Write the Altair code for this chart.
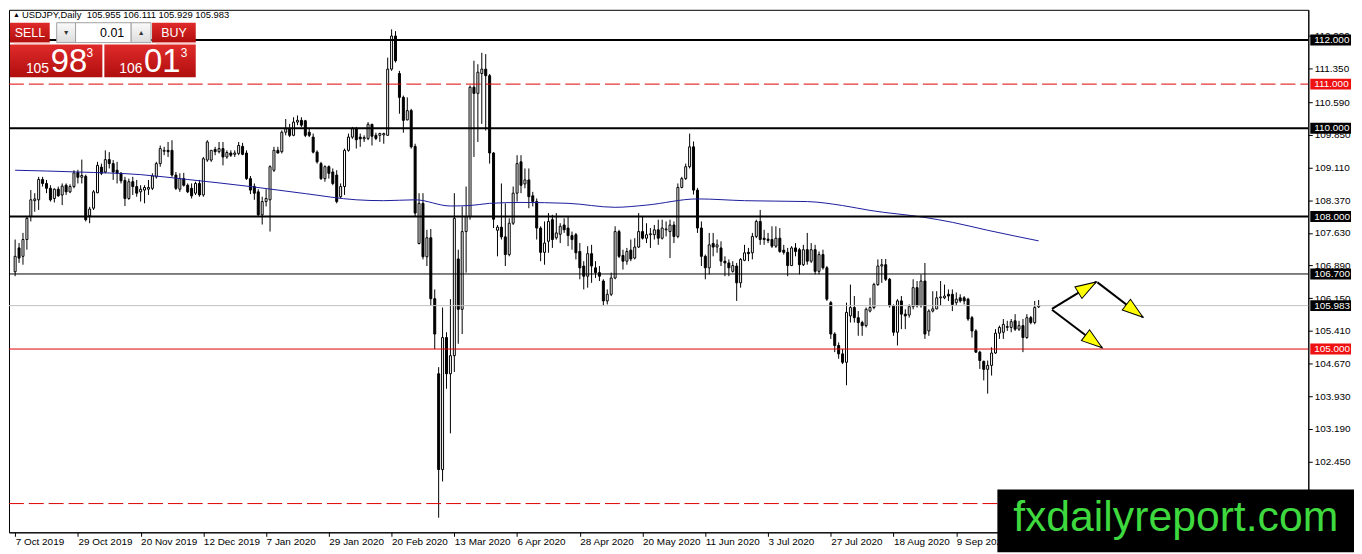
import json
import math
import altair as alt
import pandas as pd

FONT = "Liberation Sans"
W, H = 1308, 526
X_DOMAIN = [-0.3, 328.5]
Y_DOMAIN = [100.849, 112.683]

# ---------------- data ----------------
OPEN = [
    106.75, 107.29, 107.10, 107.48, 108.00, 108.36, 108.38, 108.84, 108.75, 108.64,
    108.41, 108.62, 108.49, 108.71, 108.56, 108.68, 109.00, 108.89, 108.91, 108.02,
    108.19, 108.54, 109.12, 109.01, 109.29, 109.20, 109.05, 108.98, 108.82, 108.41,
    108.79, 108.68, 108.56, 108.60, 108.62, 108.64, 108.90, 109.20, 109.48, 109.50,
    109.50, 108.94, 108.62, 108.86, 108.71, 108.64, 108.53, 108.75, 108.49, 109.28,
    109.28, 109.52, 109.47, 109.54, 109.35, 109.44, 109.41, 109.43, 109.59, 109.44,
    108.86, 108.68, 108.56, 108.04, 108.34, 108.38, 109.05, 109.50, 109.47, 109.91,
    109.99, 109.84, 110.14, 110.18, 110.17, 109.91, 109.80, 109.46, 109.20, 108.86,
    109.13, 109.01, 108.94, 108.45, 108.68, 109.50, 109.80, 109.99, 109.80, 109.76,
    109.77, 110.09, 109.84, 109.84, 109.85, 109.84, 111.34, 112.09, 111.24, 110.70,
    110.19, 110.40, 109.59, 107.39, 108.30, 107.09, 107.52, 106.14, 104.44, 102.27,
    105.26, 104.44, 104.85, 107.04, 105.90, 107.66, 108.00, 110.93, 110.79, 111.24,
    111.34, 111.19, 109.44, 107.69, 107.76, 107.54, 107.14, 107.85, 108.53, 109.24,
    108.74, 108.83, 108.47, 108.34, 107.74, 107.19, 107.44, 107.93, 107.52, 107.60,
    107.81, 107.74, 107.57, 107.59, 107.21, 106.88, 106.65, 107.16, 106.84, 106.73,
    106.54, 106.09, 106.24, 106.61, 107.66, 107.12, 106.99, 107.24, 107.06, 107.31,
    107.66, 107.51, 107.59, 107.59, 107.70, 107.51, 107.70, 107.66, 107.81, 107.55,
    108.66, 108.86, 109.13, 109.58, 108.60, 107.74, 107.10, 106.84, 107.39, 107.31,
    107.29, 106.99, 106.95, 106.76, 106.88, 106.50, 107.01, 107.19, 107.18, 107.55,
    107.89, 107.51, 107.49, 107.48, 107.33, 107.51, 107.24, 107.19, 106.89, 107.29,
    107.25, 106.91, 107.25, 106.99, 107.25, 106.76, 107.14, 106.84, 106.05, 105.34,
    105.08, 104.89, 104.70, 105.75, 105.94, 105.71, 105.60, 105.53, 105.86, 105.94,
    106.46, 106.88, 106.91, 106.58, 105.98, 105.38, 106.09, 105.79, 105.77, 105.96,
    106.39, 105.98, 106.54, 105.41, 105.86, 105.91, 106.16, 106.16, 106.24, 106.24,
    106.05, 106.16, 106.16, 106.13, 105.71, 105.41, 104.93, 104.72, 104.54, 104.63,
    104.91, 105.36, 105.38, 105.49, 105.49, 105.64, 105.45, 105.53, 105.26, 105.71,
    105.60, 105.955,
]
HIGH = [
    107.48, 107.40, 107.63, 108.00, 108.60, 108.53, 108.90, 108.90, 108.83, 108.71,
    108.64, 108.68, 108.75, 108.75, 108.73, 109.05, 109.06, 109.29, 108.95, 108.22,
    108.60, 109.24, 109.20, 109.50, 109.46, 109.28, 109.24, 109.01, 108.90, 108.86,
    108.90, 108.83, 108.71, 108.71, 108.83, 108.98, 109.24, 109.61, 109.58, 109.69,
    109.73, 109.01, 108.98, 108.99, 108.75, 108.75, 108.79, 108.83, 109.35, 109.73,
    109.50, 109.58, 109.69, 109.69, 109.50, 109.50, 109.50, 109.69, 109.67, 109.50,
    108.92, 108.75, 108.62, 108.45, 108.62, 109.16, 109.58, 109.58, 109.95, 110.21,
    110.10, 110.25, 110.29, 110.25, 110.19, 109.99, 109.88, 109.50, 109.24, 109.16,
    109.16, 109.09, 109.05, 108.75, 109.54, 109.88, 110.03, 110.03, 109.88, 109.84,
    110.14, 110.10, 109.90, 109.90, 109.90, 111.60, 112.24, 112.20, 111.30, 110.74,
    110.70, 110.44, 109.65, 108.53, 108.53, 107.70, 107.72, 106.35, 104.59, 105.94,
    105.38, 106.13, 108.53, 107.25, 108.23, 108.68, 110.97, 111.53, 111.45, 111.71,
    111.68, 111.23, 109.46, 107.81, 108.75, 108.30, 107.96, 108.68, 109.39, 109.39,
    109.09, 109.09, 108.56, 108.41, 107.78, 107.89, 108.08, 108.04, 108.08, 107.85,
    107.96, 108.00, 107.66, 107.63, 107.40, 106.99, 107.33, 107.36, 106.99, 106.88,
    106.58, 106.35, 106.73, 107.78, 107.70, 107.25, 107.29, 107.48, 107.51, 108.08,
    107.99, 107.85, 107.74, 107.81, 107.93, 107.93, 107.89, 107.93, 107.89, 108.75,
    108.90, 109.20, 109.88, 109.70, 108.65, 107.89, 107.14, 107.63, 107.63, 107.48,
    107.44, 107.10, 107.03, 106.99, 106.95, 107.06, 107.36, 107.29, 107.63, 107.93,
    108.15, 107.70, 107.63, 107.78, 107.78, 107.74, 107.36, 107.29, 107.33, 107.40,
    107.29, 107.36, 107.63, 107.40, 107.36, 107.21, 107.25, 106.88, 106.09, 105.38,
    105.15, 105.00, 106.05, 106.46, 106.20, 105.86, 105.64, 105.94, 106.16, 106.50,
    107.03, 107.04, 107.04, 106.61, 106.01, 106.13, 106.20, 105.90, 106.01, 106.58,
    106.54, 106.69, 106.95, 105.90, 106.31, 106.31, 106.54, 106.46, 106.35, 106.35,
    106.28, 106.24, 106.20, 106.16, 105.75, 105.45, 104.96, 104.74, 104.74, 105.04,
    105.45, 105.53, 105.68, 105.64, 105.68, 105.79, 105.64, 105.68, 105.79, 105.75,
    106.09, 106.111,
]
LOW = [
    106.65, 106.95, 106.91, 107.25, 107.89, 108.11, 108.15, 108.68, 108.53, 108.34,
    108.32, 108.45, 108.26, 108.49, 108.53, 108.64, 108.75, 108.75, 107.89, 107.85,
    108.15, 108.53, 108.94, 108.98, 109.09, 108.83, 108.75, 108.75, 108.24, 108.38,
    108.49, 108.45, 108.34, 108.30, 108.49, 108.60, 108.86, 109.13, 109.39, 109.35,
    108.90, 108.60, 108.56, 108.68, 108.53, 108.41, 108.49, 108.45, 108.45, 109.24,
    109.24, 109.39, 109.43, 109.16, 109.31, 109.35, 109.35, 109.39, 109.39, 108.83,
    108.51, 108.38, 108.00, 107.82, 108.23, 107.66, 109.01, 109.43, 109.43, 109.84,
    109.80, 109.82, 110.07, 110.03, 109.80, 109.80, 109.43, 109.20, 108.83, 108.79,
    108.86, 108.71, 108.30, 108.41, 108.49, 109.47, 109.76, 109.54, 109.58, 109.69,
    109.73, 109.61, 109.73, 109.69, 109.65, 109.84, 111.30, 111.49, 110.33, 109.90,
    110.18, 109.54, 108.00, 107.37, 107.03, 106.88, 105.98, 105.00, 101.18, 102.00,
    104.10, 103.09, 104.48, 105.12, 105.34, 106.73, 107.93, 109.35, 109.69, 110.10,
    109.95, 109.20, 107.74, 107.10, 107.48, 106.88, 107.10, 107.81, 108.34, 108.53,
    108.64, 108.19, 108.23, 107.48, 106.99, 106.91, 107.18, 107.29, 107.48, 107.40,
    107.63, 107.33, 107.25, 107.03, 106.58, 106.35, 106.39, 106.50, 106.61, 106.54,
    105.98, 106.01, 106.20, 106.58, 107.06, 106.80, 106.91, 106.99, 107.03, 107.29,
    107.48, 107.40, 107.29, 107.48, 107.36, 107.48, 107.55, 107.06, 107.40, 107.51,
    108.64, 108.83, 109.09, 108.50, 107.63, 106.88, 106.58, 106.69, 107.10, 107.18,
    106.88, 106.65, 106.65, 106.73, 106.09, 106.39, 106.99, 106.99, 107.03, 107.51,
    107.36, 107.36, 107.40, 107.29, 107.29, 107.18, 107.14, 106.65, 106.88, 107.10,
    106.69, 106.88, 106.91, 106.95, 106.69, 106.69, 106.80, 106.09, 105.23, 104.93,
    104.78, 104.66, 104.18, 105.60, 105.60, 105.30, 105.30, 105.49, 105.83, 105.90,
    106.43, 106.50, 106.54, 105.94, 105.30, 105.08, 105.45, 105.45, 105.71, 105.90,
    105.94, 105.94, 105.23, 105.30, 105.83, 105.90, 105.98, 106.13, 106.09, 105.86,
    105.98, 106.05, 106.01, 105.64, 105.26, 104.91, 104.55, 104.29, 103.99, 104.40,
    104.89, 105.23, 105.23, 105.41, 105.38, 105.41, 105.41, 104.93, 105.23, 105.56,
    105.56, 105.929,
]
CLOSE = [
    107.10, 107.06, 107.48, 107.96, 108.38, 108.40, 108.84, 108.75, 108.64, 108.38,
    108.62, 108.47, 108.69, 108.56, 108.68, 108.99, 108.89, 108.93, 107.93, 108.17,
    108.56, 109.16, 108.98, 109.29, 109.20, 109.01, 108.98, 108.81, 108.41, 108.79,
    108.68, 108.53, 108.62, 108.66, 108.66, 108.92, 109.20, 109.54, 109.50, 109.47,
    108.94, 108.64, 108.86, 108.71, 108.56, 108.47, 108.75, 108.49, 109.31, 109.69,
    109.50, 109.47, 109.54, 109.35, 109.45, 109.39, 109.44, 109.61, 109.41, 108.86,
    108.60, 108.53, 108.04, 108.34, 108.41, 109.13, 109.50, 109.44, 109.91, 109.99,
    109.84, 110.14, 110.18, 110.07, 109.84, 109.84, 109.46, 109.24, 108.86, 109.13,
    108.98, 108.75, 108.34, 108.68, 109.50, 109.80, 109.99, 109.74, 109.76, 109.79,
    110.09, 109.82, 109.77, 109.88, 109.88, 111.34, 112.09, 111.53, 110.70, 110.18,
    110.40, 109.58, 108.08, 108.30, 107.09, 107.52, 106.14, 105.34, 102.27, 105.26,
    104.44, 104.85, 107.96, 105.90, 107.66, 108.00, 110.93, 110.79, 111.27, 111.34,
    111.19, 109.44, 107.94, 107.76, 107.54, 107.14, 107.85, 108.53, 109.20, 108.71,
    108.83, 108.45, 108.34, 107.74, 107.19, 107.40, 107.89, 107.48, 107.63, 107.78,
    107.70, 107.57, 107.48, 107.18, 106.84, 106.65, 107.16, 106.88, 106.73, 106.65,
    106.09, 106.24, 106.61, 107.66, 107.10, 106.99, 107.21, 107.04, 107.31, 107.66,
    107.51, 107.59, 107.61, 107.70, 107.51, 107.74, 107.72, 107.81, 107.55, 108.66,
    108.86, 109.13, 109.58, 108.60, 107.74, 107.10, 106.84, 107.36, 107.31, 107.36,
    106.99, 106.95, 106.84, 106.89, 106.50, 107.03, 107.18, 107.16, 107.55, 107.89,
    107.48, 107.48, 107.46, 107.33, 107.51, 107.21, 107.19, 106.89, 107.29, 107.21,
    106.91, 107.25, 106.99, 107.25, 106.76, 107.14, 106.84, 106.13, 105.34, 105.08,
    104.89, 104.70, 105.83, 105.94, 105.71, 105.60, 105.53, 105.90, 105.94, 106.46,
    106.88, 106.91, 106.58, 105.98, 105.38, 106.09, 105.79, 105.75, 105.96, 106.39,
    105.98, 106.54, 105.34, 105.86, 105.91, 106.16, 106.18, 106.20, 106.20, 106.01,
    106.13, 106.09, 106.09, 105.68, 105.41, 104.93, 104.74, 104.54, 104.63, 104.91,
    105.36, 105.49, 105.56, 105.51, 105.62, 105.45, 105.53, 105.26, 105.71, 105.60,
    105.94, 105.983,
]

DATE_LABELS = [
    "7 Oct 2019", "29 Oct 2019", "20 Nov 2019", "12 Dec 2019", "7 Jan 2020",
    "29 Jan 2020", "20 Feb 2020", "13 Mar 2020", "6 Apr 2020", "28 Apr 2020",
    "20 May 2020", "11 Jun 2020", "3 Jul 2020", "27 Jul 2020", "18 Aug 2020",
    "9 Sep 2020",
]
DATE_STEP = 16

MA_IDX = [0, 16, 32, 44, 60, 74, 87, 94, 102, 111, 116, 121, 129, 141, 153,
          161, 174, 186, 202, 211, 218, 232, 239, 248, 261]
MA_VAL = [109.05, 109.01, 108.95, 108.84, 108.68, 108.52, 108.38, 108.36, 108.38,
          108.24, 108.25, 108.30, 108.32, 108.30, 108.21, 108.26, 108.40, 108.36,
          108.34, 108.25, 108.14, 107.98, 107.87, 107.69, 107.45]

Y_TICKS = [112.090, 111.350, 110.590, 109.850, 109.110, 108.370, 107.630, 106.890,
           106.150, 105.410, 104.670, 103.930, 103.190, 102.450]

THICK_LEVELS = [112.0, 110.0, 108.0]
THIN_LEVELS = [106.7]
PRICE_LINE = [105.983]
RED_LEVELS = [105.0]
RED_DASH_LEVELS = [111.0, 101.5]

BOX_PRICES = [112.0, 111.0, 110.0, 108.0, 106.7, 105.983, 105.0]
BOX_COLORS = ["black", "#ee1111", "black", "black", "black", "black", "#ee1111"]

ARROW_X0 = [264.4, 276.0, 264.4]
ARROW_Y0 = [105.91, 106.51, 105.89]
ARROW_X1 = [275.7, 287.6, 277.2]
ARROW_Y1 = [106.52, 105.72, 105.03]

HEADER = "USDJPY,Daily\u00a0 105.955 106.111 105.929 105.983"

# ---------------- tables ----------------
rows = []
for i in range(len(OPEN)):
    o, h, l, c = OPEN[i], HIGH[i], LOW[i], CLOSE[i]
    rows.append(dict(i=i, h=max(h, o, c), l=min(l, o, c), lo=min(o, c),
                     hi=max(o, c), fill="white" if c >= o else "black"))
candles = pd.DataFrame(rows)
ma_df = pd.DataFrame({"i": MA_IDX, "v": MA_VAL})

PX_X = W / (X_DOMAIN[1] - X_DOMAIN[0])
PX_Y = H / (Y_DOMAIN[1] - Y_DOMAIN[0])
arrows = pd.DataFrame({"x0": ARROW_X0, "y0": ARROW_Y0, "x1": ARROW_X1, "y1": ARROW_Y1})
arrows["ang"] = [
    math.degrees(math.atan2((x1 - x0) * PX_X, (y1 - y0) * PX_Y))
    for x0, y0, x1, y1 in zip(ARROW_X0, ARROW_Y0, ARROW_X1, ARROW_Y1)
]

boxes = pd.DataFrame({"p": BOX_PRICES, "bg": BOX_COLORS})
boxes["lo"] = boxes["p"] - 0.124
boxes["hi"] = boxes["p"] + 0.124
boxes["label"] = [f"{p:.3f}" for p in BOX_PRICES]

xscale = alt.Scale(domain=X_DOMAIN, nice=False, zero=False)
yscale = alt.Scale(domain=Y_DOMAIN, nice=False, zero=False)

label_expr = json.dumps(DATE_LABELS) + f"[round(datum.value / {DATE_STEP})]"
x_axis = alt.Axis(values=[DATE_STEP * k for k in range(len(DATE_LABELS))],
                  labelExpr=label_expr, labelAlign="left", labelBaseline="top",
                  tickSize=4, labelPadding=0, title=None, grid=False,
                  labelOverlap=False, labelFlush=False, zindex=0)
y_axis = alt.Axis(orient="right", values=Y_TICKS, format=".3f", tickSize=4,
                  labelPadding=2, title=None, grid=False, labelOverlap=False,
                  zindex=0)


def X(field):
    return alt.X(field, scale=xscale, axis=x_axis)


def Y(field):
    return alt.Y(field, scale=yscale, axis=y_axis)


layers = []

# candles
layers.append(alt.Chart(candles).mark_rule(color="black", strokeWidth=1).encode(
    x=X("i:Q"), y=Y("l:Q"), y2="h:Q"))
layers.append(alt.Chart(candles).mark_bar(size=2, stroke="black", strokeWidth=1).encode(
    x=X("i:Q"), y=Y("lo:Q"), y2="hi:Q", fill=alt.Fill("fill:N", scale=None)))

# moving average
layers.append(alt.Chart(ma_df).mark_line(color="#1c1c9c", strokeWidth=1,
                                         interpolate="monotone").encode(
    x=X("i:Q"), y=Y("v:Q")))


def level_layer(values, **kw):
    df = pd.DataFrame({"p": values})
    return alt.Chart(df).mark_rule(**kw).encode(
        y=Y("p:Q"), x=alt.value(0), x2=alt.value(W))


layers.append(level_layer(PRICE_LINE, color="#c0c0c0", strokeWidth=1))
layers.append(level_layer(THIN_LEVELS, color="black", strokeWidth=1))
layers.append(level_layer(RED_LEVELS, color="#dd0000", strokeWidth=1))
layers.append(level_layer(RED_DASH_LEVELS, color="#dd0000", strokeWidth=1,
                          strokeDash=[15, 5]))
layers.append(level_layer(THICK_LEVELS, color="black", strokeWidth=2))

# price boxes on the right axis
layers.append(alt.Chart(boxes).mark_rect().encode(
    y=Y("lo:Q"), y2="hi:Q", x=alt.value(W + 2), x2=alt.value(W + 43),
    fill=alt.Fill("bg:N", scale=None)))
layers.append(alt.Chart(boxes).mark_text(align="left", baseline="middle", font=FONT,
                                         fontSize=10, color="white").encode(
    y=Y("p:Q"), x=alt.value(W + 6), text="label:N"))

# arrows
layers.append(alt.Chart(arrows).mark_rule(color="black", strokeWidth=2).encode(
    x=X("x0:Q"), x2="x1:Q", y=Y("y0:Q"), y2="y1:Q"))
layers.append(alt.Chart(arrows).mark_point(
    shape="M0,0L0.65,2L-0.65,2Z", filled=True, fill="#ffff00", stroke="black",
    strokeWidth=1, size=441, opacity=1).encode(
    x=X("x1:Q"), y=Y("y1:Q"), angle=alt.Angle("ang:Q", scale=None)))

ONE = alt.Data(values=[{}])


def rect(x0, x1, y0, y1, **kw):
    return alt.Chart(ONE).mark_rect(**kw).encode(
        x=alt.value(x0), x2=alt.value(x1), y=alt.value(y0), y2=alt.value(y1))


def text(t, x, y, size, color="black", **kw):
    return alt.Chart(ONE).mark_text(text=t, font=FONT, fontSize=size, color=color,
                                    **kw).encode(x=alt.value(x), y=alt.value(y))


RED = alt.Gradient(gradient="linear", x1=0, x2=0, y1=0, y2=1,
                   stops=[alt.GradientStop(offset=0, color="#e02a2a"),
                          alt.GradientStop(offset=1, color="#b00e0e")])
GREY = alt.Gradient(gradient="linear", x1=0, x2=0, y1=0, y2=1,
                    stops=[alt.GradientStop(offset=0, color="#fafafa"),
                           alt.GradientStop(offset=1, color="#dcdcdc")])

# header
layers.append(text("\u25b2", 4, 5, 7, align="left", baseline="middle"))
layers.append(text(HEADER, 13, 5, 9.5, align="left", baseline="middle"))

# trade widget
layers.append(rect(1, 41, 13, 33, fill=RED))
layers.append(rect(144, 188, 13, 33, fill=RED))
layers.append(rect(1, 94, 35, 68, fill=RED))
layers.append(rect(96, 188, 35, 68, fill=RED))
layers.append(rect(5, 41, 33, 34, fill="#f2a0a0"))
layers.append(rect(148, 188, 33, 34, fill="#f2a0a0"))
layers.append(rect(48, 67, 13, 33, fill=GREY, stroke="#a0a0a0", strokeWidth=1))
layers.append(rect(67, 123, 13, 33, fill="white", stroke="#a0a0a0", strokeWidth=1))
layers.append(rect(123, 143, 13, 33, fill=GREY, stroke="#a0a0a0", strokeWidth=1))
layers.append(text("SELL", 21, 23.5, 12.5, "white", align="center", baseline="middle"))
layers.append(text("\u25bc", 57.5, 23, 7, "#333333", align="center", baseline="middle"))
layers.append(text("0.01", 116, 23.5, 12.5, "black", align="right", baseline="middle"))
layers.append(text("\u25b2", 133, 23, 7, "#333333", align="center", baseline="middle"))
layers.append(text("BUY", 166, 23.5, 12.5, "white", align="center", baseline="middle"))
layers.append(text("105", 17, 63.5, 14, "white", align="left", baseline="alphabetic"))
layers.append(text("98", 42, 62.5, 33, "white", align="left", baseline="alphabetic"))
layers.append(text("3", 78, 38.5, 12, "white", align="left", baseline="top"))
layers.append(text("106", 111, 63.5, 14, "white", align="left", baseline="alphabetic"))
layers.append(text("01", 136, 62.5, 33, "white", align="left", baseline="alphabetic"))
layers.append(text("3", 173, 38.5, 12, "white", align="left", baseline="top"))

# watermark
layers.append(rect(995, 1354, 483, 546, fill="black"))
layers.append(text("fxdailyreport.com", 1174.5, 525, 43, "#3ed93e", align="center",
                   baseline="alphabetic"))

chart = alt.layer(*layers).properties(
    width=W, height=H, padding=0, background="white"
).configure_view(stroke="black", strokeWidth=1).configure_axis(
    labelFont=FONT, labelFontSize=10, labelColor="black", tickColor="black",
    domainColor="black", domainWidth=1, tickWidth=1
)

chart.save("out.html", embed_options={"renderer": "svg", "actions": False})
